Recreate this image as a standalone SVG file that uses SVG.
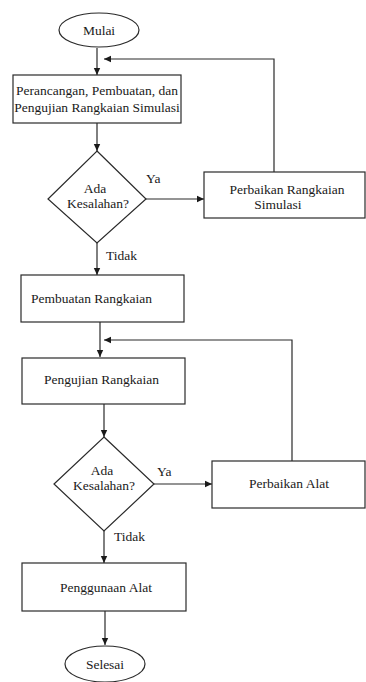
<svg xmlns="http://www.w3.org/2000/svg" width="366" height="682" viewBox="0 0 366 682">
<defs>
<marker id="ah" markerWidth="8" markerHeight="8" refX="7" refY="4" orient="auto" markerUnits="userSpaceOnUse">
<path d="M0,0.8 L7,4 L0,7.2 Z" fill="#1a1a1a"/>
</marker>
</defs>
<style>
.s{fill:#fff;stroke:#2a2a2a;stroke-width:1.2}
.c{fill:none;stroke:#2a2a2a;stroke-width:1.2}
.t{font-family:'Liberation Serif','DejaVu Serif',serif;font-size:13.5px;fill:#1a1a1a}
.m{text-anchor:middle}
</style>
<rect width="366" height="682" fill="#fff"/>
<g id="connectors">
<path class="c" d="M97,48 V75" marker-end="url(#ah)"/>
<path class="c" d="M274,172 V59 H104" marker-end="url(#ah)"/>
<path class="c" d="M97,123 V151" marker-end="url(#ah)"/>
<path class="c" d="M146,199 H204" marker-end="url(#ah)"/>
<path class="c" d="M97,243 V275" marker-end="url(#ah)"/>
<path class="c" d="M100,322 V357" marker-end="url(#ah)"/>
<path class="c" d="M292,461 V340 H104" marker-end="url(#ah)"/>
<path class="c" d="M104,404 V437" marker-end="url(#ah)"/>
<path class="c" d="M154,484 H212" marker-end="url(#ah)"/>
<path class="c" d="M104,531 V563" marker-end="url(#ah)"/>
<path class="c" d="M105,611 V645" marker-end="url(#ah)"/>
<text class="t" x="146" y="183">Ya</text>
<text class="t" x="106" y="260">Tidak</text>
<text class="t" x="157" y="476">Ya</text>
<text class="t" x="114" y="541">Tidak</text>
</g>
<g id="mulai">
<ellipse class="s" cx="99" cy="30" rx="40" ry="17"/>
<text class="t m" x="99" y="35">Mulai</text>
</g>
<g id="perancangan">
<rect class="s" x="13" y="75" width="168" height="48"/>
<text class="t m" x="97" y="95">Perancangan, Pembuatan, dan</text>
<text class="t m" x="97" y="112">Pengujian Rangkaian Simulasi</text>
</g>
<g id="cek1">
<polygon class="s" points="97,151 146,199 97,243 48,199"/>
<text class="t m" x="95" y="193">Ada</text>
<text class="t m" x="98" y="208">Kesalahan?</text>
</g>
<g id="perbaikan-simulasi">
<rect class="s" x="204" y="172" width="161" height="46"/>
<text class="t m" x="287" y="194">Perbaikan Rangkaian</text>
<text class="t m" x="278" y="209">Simulasi</text>
</g>
<g id="pembuatan">
<rect class="s" x="21" y="275" width="163" height="47"/>
<text class="t" x="31" y="303">Pembuatan Rangkaian</text>
</g>
<g id="pengujian">
<rect class="s" x="22" y="358" width="163" height="46"/>
<text class="t" x="44" y="384">Pengujian Rangkaian</text>
</g>
<g id="cek2">
<polygon class="s" points="104,437 154,484 104,531 54,484"/>
<text class="t m" x="102" y="475">Ada</text>
<text class="t m" x="104" y="490">Kesalahan?</text>
</g>
<g id="perbaikan-alat">
<rect class="s" x="212" y="461" width="153" height="47"/>
<text class="t m" x="289" y="488">Perbaikan Alat</text>
</g>
<g id="penggunaan">
<rect class="s" x="22" y="563" width="164" height="48"/>
<text class="t m" x="106" y="592">Penggunaan Alat</text>
</g>
<g id="selesai">
<ellipse class="s" cx="105" cy="664" rx="40" ry="18"/>
<text class="t m" x="105" y="669">Selesai</text>
</g>
</svg>
